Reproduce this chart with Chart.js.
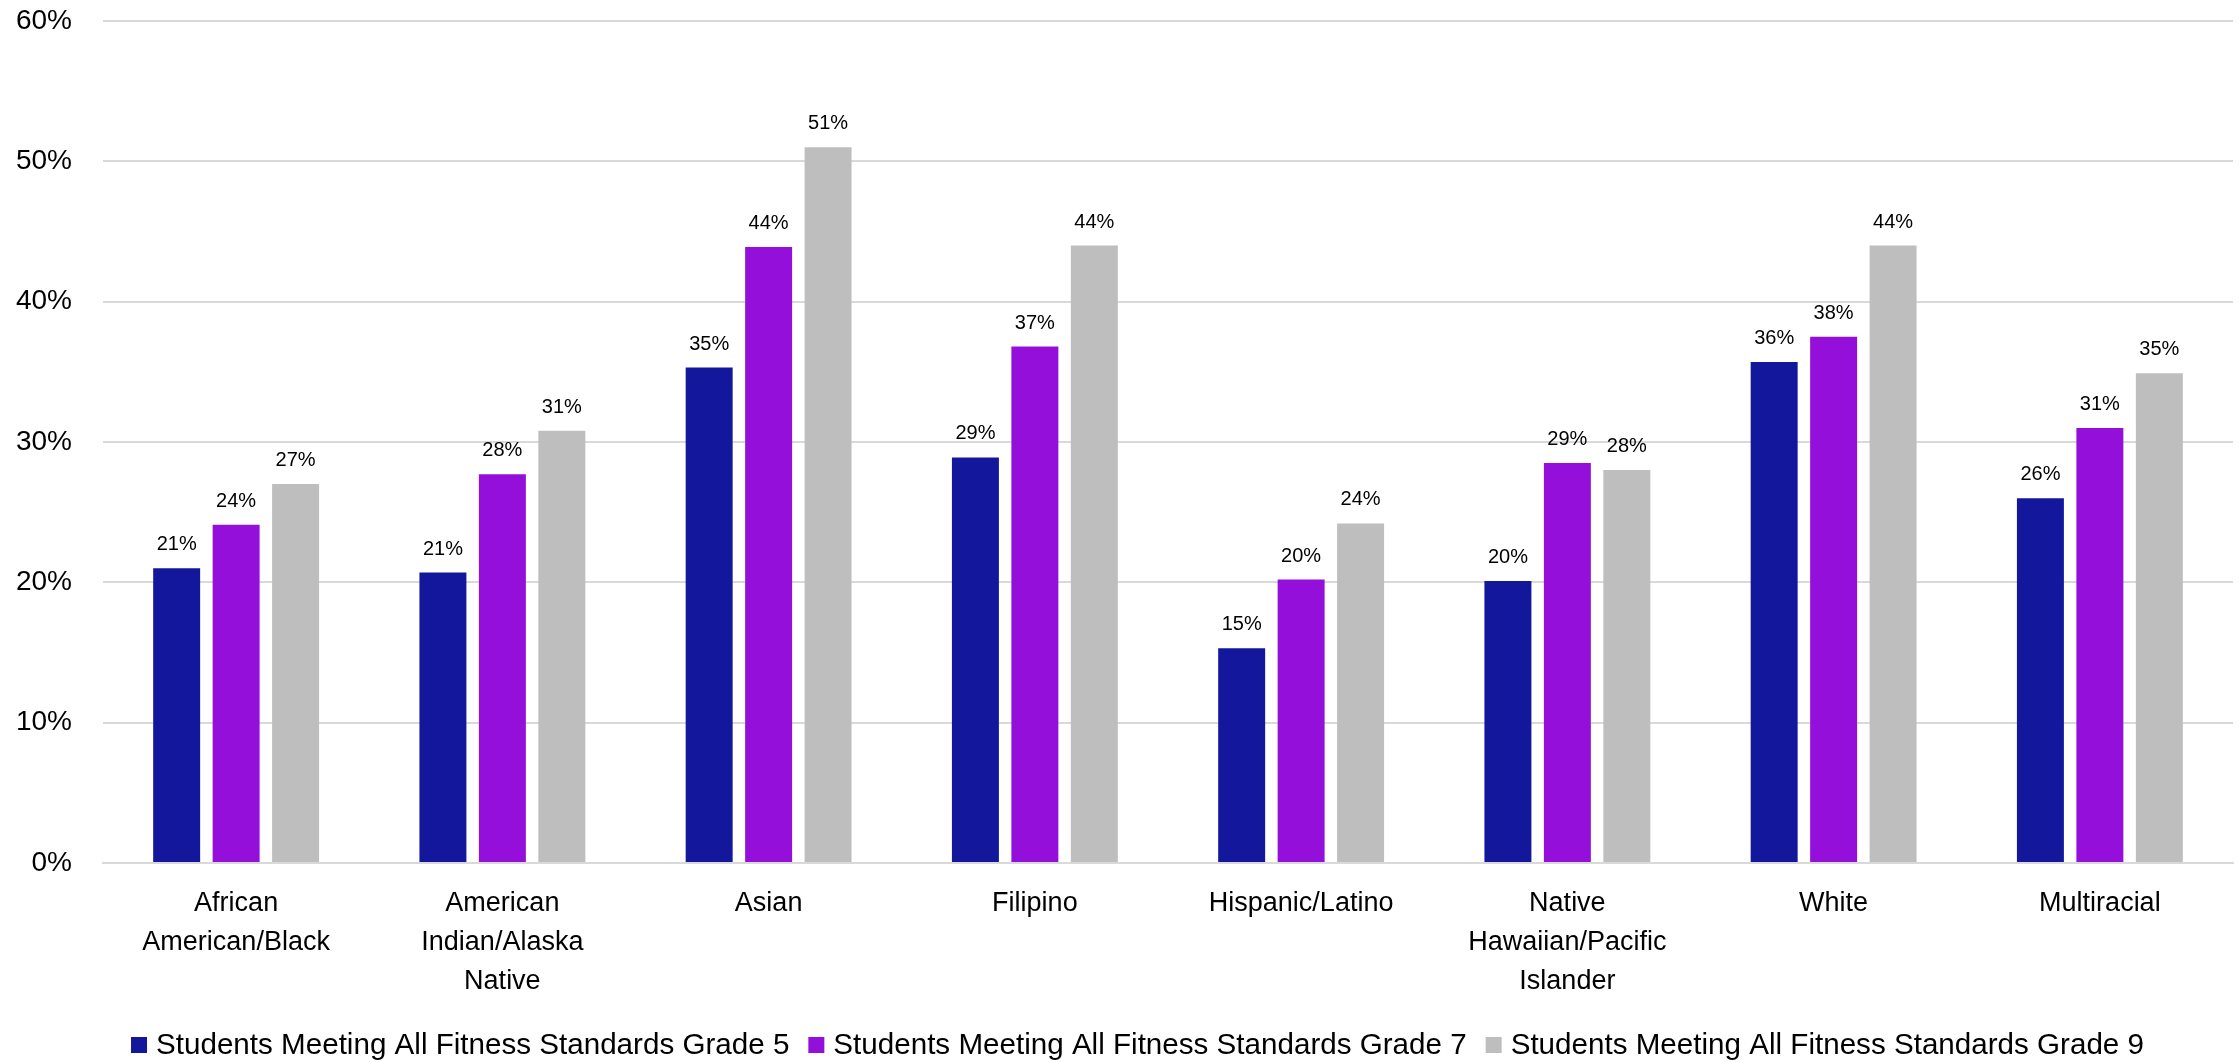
<!DOCTYPE html>
<html>
<head>
<meta charset="utf-8">
<script src="https://cdn.jsdelivr.net/npm/chart.js@4/dist/chart.umd.min.js"></script>
<style>
  html, body { margin: 0; padding: 0; background: #ffffff; }
  #wrap { width: 2239px; height: 1062px; position: relative; }
</style>
</head>
<body>
<div id="wrap"><canvas id="c"></canvas></div>
<script>
const categories = [
  ['African', 'American/Black'],
  ['American', 'Indian/Alaska', 'Native'],
  'Asian',
  'Filipino',
  'Hispanic/Latino',
  ['Native', 'Hawaiian/Pacific', 'Islander'],
  'White',
  'Multiracial'
];
const seriesNames = [
  'Students Meeting All Fitness Standards Grade 5',
  'Students Meeting All Fitness Standards Grade 7',
  'Students Meeting All Fitness Standards Grade 9'
];
const grade5 = [21.0, 20.7, 35.3, 28.9, 15.3, 20.1, 35.7, 26.0];
const grade7 = [24.1, 27.7, 43.9, 36.8, 20.2, 28.5, 37.5, 31.0];
const grade9 = [27.0, 30.8, 51.0, 44.0, 24.2, 28.0, 44.0, 34.9];
const yTickValues = [0, 10, 20, 30, 40, 50, 60];

const colors = ['#13179B', '#9410DA', '#BEBEBE'];

const sansFont = '"Liberation Sans", Arial, sans-serif';

const dataLabels = {
  id: 'dataLabels',
  afterDatasetsDraw(chart) {
    const ctx = chart.ctx;
    ctx.save();
    ctx.font = '20px ' + sansFont;
    ctx.fillStyle = '#000000';
    ctx.textAlign = 'center';
    ctx.textBaseline = 'alphabetic';
    chart.data.datasets.forEach((ds, i) => {
      const meta = chart.getDatasetMeta(i);
      meta.data.forEach((bar, j) => {
        ctx.fillText(Math.round(ds.data[j]) + '%', bar.x, bar.y - 18);
      });
    });
    ctx.restore();
  }
};

// Legend drawn below the axis labels (boxes + series names from the datasets)
const bottomLegend = {
  id: 'bottomLegend',
  afterDraw(chart) {
    const ctx = chart.ctx;
    const box = 16, gapBoxText = 9, gapItems = 19;
    ctx.save();
    ctx.font = '29.6px ' + sansFont;
    ctx.textBaseline = 'middle';
    ctx.textAlign = 'left';
    const items = chart.data.datasets.map(ds => ({
      text: ds.label, color: ds.backgroundColor, w: ctx.measureText(ds.label).width
    }));
    let total = 0;
    items.forEach((it, i) => { total += box + gapBoxText + it.w + (i < items.length - 1 ? gapItems : 0); });
    let x = chart.width / 2 + 18 - total / 2;
    const cy = chart.height - 17;
    items.forEach(it => {
      ctx.fillStyle = it.color;
      ctx.fillRect(x, cy - box / 2, box, box);
      x += box + gapBoxText;
      ctx.fillStyle = '#000000';
      ctx.fillText(it.text, x, cy + 1);
      x += it.w + gapItems;
    });
    ctx.restore();
  }
};

new Chart(document.getElementById('c'), {
  type: 'bar',
  data: {
    labels: categories,
    datasets: [
      { label: seriesNames[0], data: grade5, backgroundColor: colors[0] },
      { label: seriesNames[1], data: grade7, backgroundColor: colors[1] },
      { label: seriesNames[2], data: grade9, backgroundColor: colors[2] }
    ]
  },
  options: {
    responsive: true,
    maintainAspectRatio: false,
    animation: false,
    devicePixelRatio: 1,
    categoryPercentage: 0.67,
    barPercentage: 0.79,
    layout: { padding: { top: 21, right: 6, left: 0, bottom: 50 } },
    plugins: {
      legend: { display: false },
      tooltip: { enabled: false }
    },
    scales: {
      x: {
        afterFit(scale) { scale.height = 149; },
        grid: { display: false, drawTicks: false },
        border: { display: true, color: '#D9D9D9', width: 2 },
        ticks: {
          font: { family: sansFont, size: 27, lineHeight: 1.45 },
          color: '#000000',
          padding: 21,
          maxRotation: 0,
          autoSkip: false
        }
      },
      y: {
        min: 0,
        max: 60,
        afterFit(scale) { scale.width = 103; },
        afterBuildTicks(scale) { scale.ticks = yTickValues.map(v => ({ value: v })); },
        grid: { color: '#D9D9D9', lineWidth: 2, drawTicks: true, tickLength: 31, tickColor: 'rgba(0,0,0,0)' },
        border: { display: false },
        ticks: {
          font: { family: sansFont, size: 28 },
          color: '#000000',
          padding: 0,
          callback: v => v + '%'
        }
      }
    }
  },
  plugins: [dataLabels, bottomLegend]
});
</script>
</body>
</html>
